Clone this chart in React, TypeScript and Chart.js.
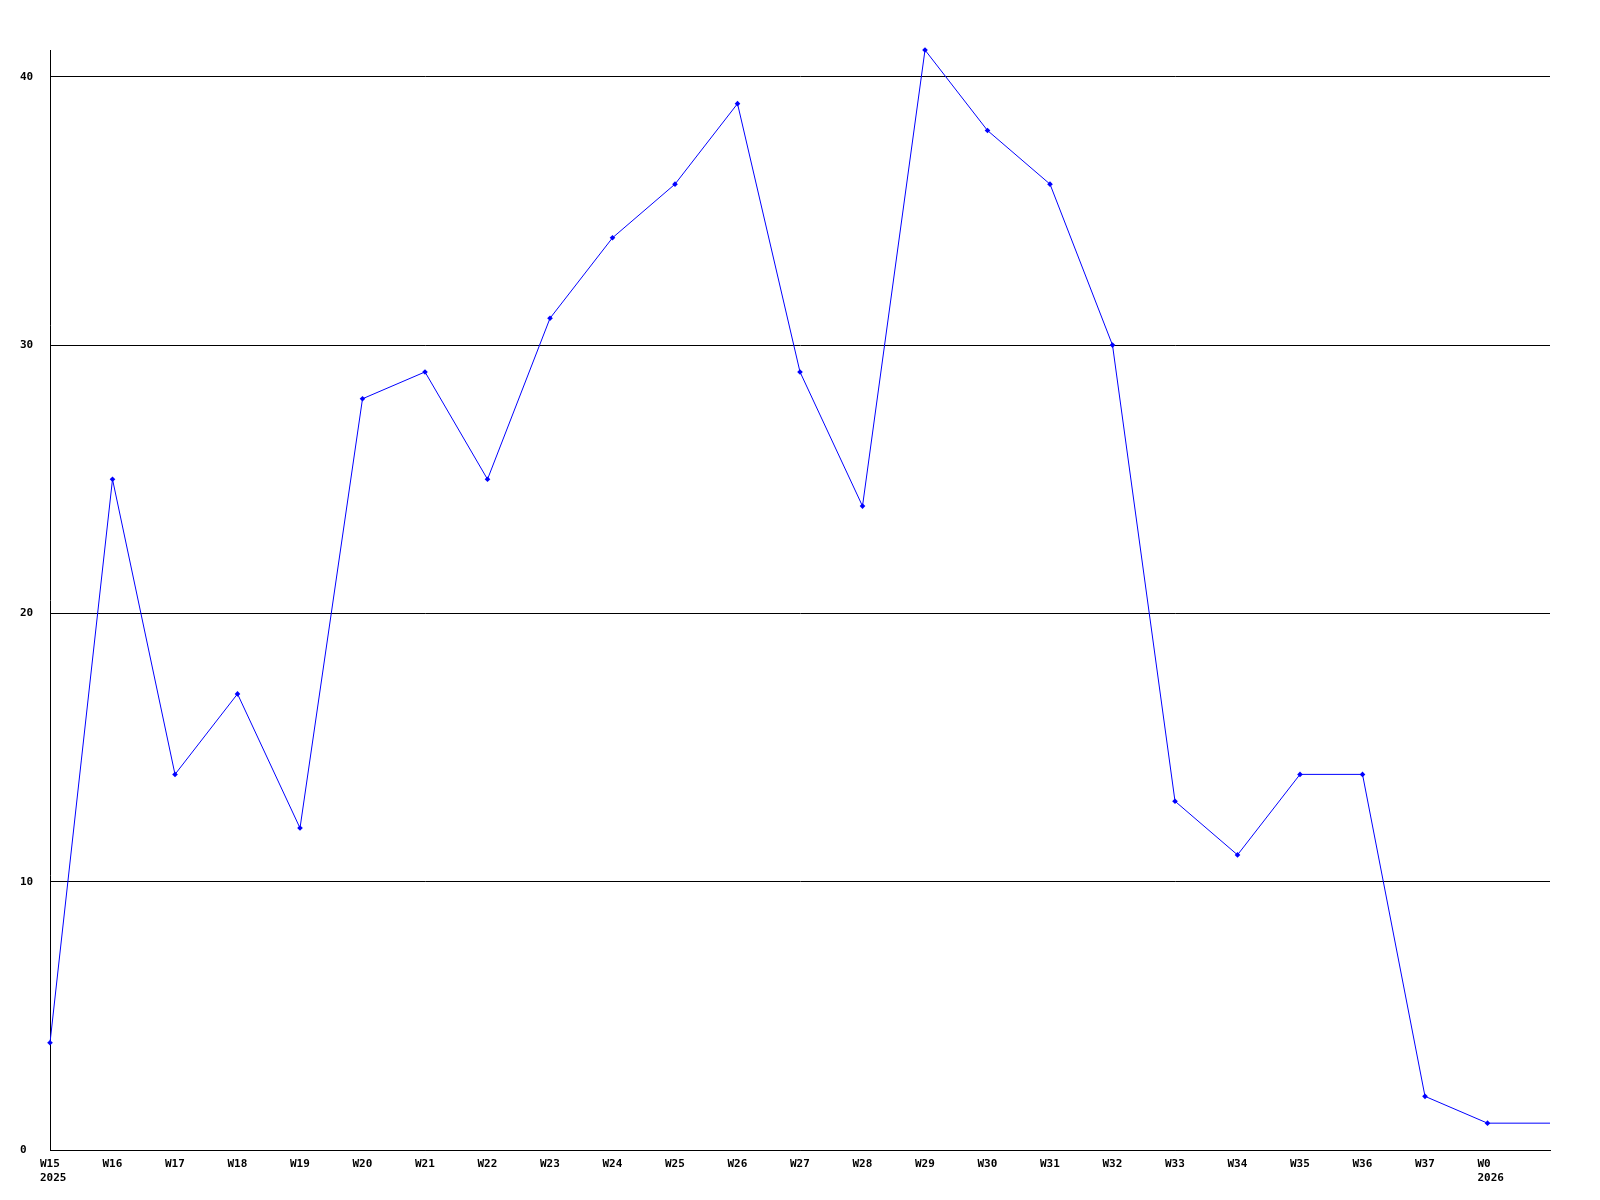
import React, { useEffect, useRef } from "react";
import { Chart, registerables } from "chart.js";

Chart.register(...registerables);

const weekLabels = ["W15","W16","W17","W18","W19","W20","W21","W22","W23","W24","W25","W26","W27","W28","W29","W30","W31","W32","W33","W34","W35","W36","W37","W0",""];
const yearLabels: Record<string, string> = { W15: "2025", W0: "2026" };
const values = [4,25,14,17,12,28,29,25,31,34,36,39,29,24,41,38,36,30,13,11,14,14,2,1,1];
const yTicks = [0, 10, 20, 30, 40];
const yMax = 41;

export default function App() {
  const ref = useRef<HTMLCanvasElement | null>(null);
  useEffect(() => {
    if (!ref.current) return;
    const font = { family: "'DejaVu Sans Mono', monospace", size: 11, weight: "bold" as const };
    const labels = weekLabels.map((w) => (yearLabels[w] ? [w, yearLabels[w]] : w));
    const chart = new Chart(ref.current, {
      type: "line",
      data: {
        labels,
        datasets: [
          {
            data: values,
            borderColor: "#0000ff",
            backgroundColor: "#0000ff",
            borderWidth: 1,
            tension: 0,
            pointStyle: "rectRot",
            pointRadius: values.map((_, i) => (i === values.length - 1 ? 0 : 2.8)),
            pointBorderWidth: 0,
            fill: false,
            clip: false,
          },
        ],
      },
      options: {
        animation: false,
        responsive: false,
        devicePixelRatio: 1,
        layout: { padding: { top: 50, right: 50, left: 20, bottom: 0 } },
        plugins: { legend: { display: false }, tooltip: { enabled: false } },
        scales: {
          x: {
            type: "category",
            offset: false,
            grid: { display: false, drawTicks: false },
            border: { display: true, color: "#000000", width: 1 },
            ticks: {
              color: "#000000",
              font,
              autoSkip: false,
              maxRotation: 0,
              minRotation: 0,
              padding: 8,
              align: "start",
              labelOffset: -10,
            },
            afterFit: (s: any) => {
              s.height = 50;
            },
          },
          y: {
            min: 0,
            max: yMax,
            grid: { color: "#000000", lineWidth: 1, drawTicks: false },
            border: { display: true, color: "#000000", width: 1 },
            ticks: {
              color: "#000000",
              font,
              stepSize: 10,
              padding: 4,
              crossAlign: "far",
            },
            afterBuildTicks: (s: any) => {
              s.ticks = yTicks.map((v) => ({ value: v }));
            },
            afterFit: (s: any) => {
              s.width = 30;
            },
          },
        },
      },
    });
    return () => chart.destroy();
  }, []);
  return (
    <div style={{ position: "fixed", left: 0, top: 0, width: 1600, height: 1200, background: "#ffffff" }}>
      <canvas ref={ref} width={1600} height={1200} style={{ width: 1600, height: 1200 }} />
    </div>
  );
}
